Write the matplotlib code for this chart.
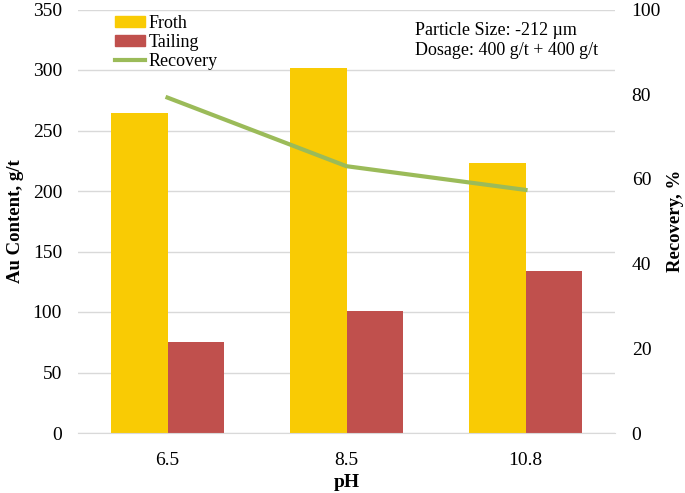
import matplotlib
matplotlib.use("Agg")
import matplotlib.pyplot as plt
import numpy as np
from matplotlib.patches import Patch
from matplotlib.lines import Line2D

ph_labels = ["6.5", "8.5", "10.8"]
froth = [264.5, 301.7, 223.5]
tailing = [75, 100.5, 133.5]
recovery = [79.2, 63.0, 57.4]

plt.rcParams["font.family"] = ["Liberation Serif", "DejaVu Serif"]

fig = plt.figure(figsize=(6.85, 4.93), dpi=100)
ax = fig.add_axes([78 / 685, 60 / 493, 537 / 685, 423.5 / 493])
x = np.arange(len(ph_labels))
w = 0.316
ax.bar(x - w / 2, froth, w, color="#F9CB04", zorder=2)
ax.bar(x + w / 2, tailing, w, color="#C0504D", zorder=2)
ax.set_xlim(-0.5, 2.5)
ax.set_ylim(0, 350)
ax.set_yticks(range(0, 351, 50))
ax.yaxis.grid(True, color="#D9D9D9", linewidth=1, zorder=0)
ax.set_axisbelow(True)
for s in ["left", "right", "top"]:
    ax.spines[s].set_visible(False)
ax.spines["bottom"].set_color("#D9D9D9")
ax.set_xticks(x)
ax.set_xticklabels(ph_labels)
ax.tick_params(axis="x", length=0, labelsize=14, pad=14)
ax.tick_params(axis="y", length=0, labelsize=14, pad=11.5)
ax.set_xlabel("pH", fontsize=14, fontweight="bold", labelpad=3)
ax.set_ylabel("Au Content, g/t", fontsize=13.5, fontweight="bold", labelpad=6)

ax2 = ax.twinx()
ax2.plot(x, recovery, color="#9BBB59", linewidth=3, zorder=3)
ax2.set_ylim(0, 100)
ax2.set_yticks(range(0, 101, 20))
ax2.tick_params(axis="y", length=0, labelsize=14, pad=12)
for s in ax2.spines.values():
    s.set_visible(False)
ax2.set_ylabel("Recovery, %", fontsize=13.5, fontweight="bold", labelpad=4)

handles = [Patch(color="#F9CB04"), Patch(color="#C0504D"),
           Line2D([], [], color="#9BBB59", linewidth=3)]
ax.legend(handles, ["Froth", "Tailing", "Recovery"], loc="upper left",
          bbox_to_anchor=(0.045, 1.017), frameon=False, fontsize=13,
          handlelength=1.7, handleheight=0.55, labelspacing=0.12,
          handletextpad=0.15, borderpad=0.2)

ax.text(0.628, 0.97, "Particle Size: -212 µm\nDosage: 400 g/t + 400 g/t",
        transform=ax.transAxes, fontsize=13, va="top", ha="left",
        linespacing=1.25)

fig.savefig("out.png", dpi=100)
